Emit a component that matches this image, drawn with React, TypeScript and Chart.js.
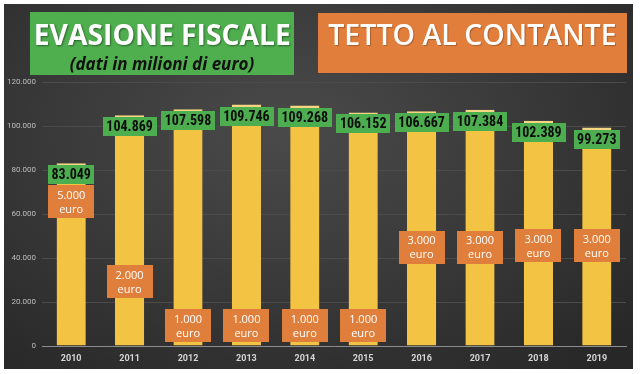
import React, { useEffect, useRef } from 'react';
import { Chart, registerables } from 'chart.js';

Chart.register(...registerables);

// ---- data ----
const years = ['2010', '2011', '2012', '2013', '2014', '2015', '2016', '2017', '2018', '2019'];
const evasione = [83049, 104869, 107598, 109746, 109268, 106152, 106667, 107384, 102389, 99273];
const tettoContante = [5000, 2000, 1000, 1000, 1000, 1000, 3000, 3000, 3000, 3000];
// vertical anchor (in y-axis units) where each "tetto" tag sits on its bar
const tettoAnchor = [65700, 29300, 9300, 9300, 9300, 9300, 45000, 45000, 45600, 45500];
const yMin = 0;
const yMax = 120000;
const yStep = 20000;
const titleLeft = 'EVASIONE FISCALE';
const subtitleLeft = '(dati in milioni di euro)';
const titleRight = 'TETTO AL CONTANTE';

const fmt = (n: number) => String(Math.round(n)).replace(/\B(?=(\d{3})+(?!\d))/g, '.');

const NUM_FONT = '"Liberation Sans Narrow", "Roboto Condensed", Roboto, sans-serif';

const tagPlugin = {
  id: 'tags',
  afterDatasetsDraw(chart: any) {
    const ctx = chart.ctx;
    const meta = chart.getDatasetMeta(0);
    const yScale = chart.scales.y;
    ctx.save();
    meta.data.forEach((el: any, i: number) => {
      const x = el.x;
      const top = el.y;
      // green value tag
      ctx.font = 'bold 14px ' + NUM_FONT;
      const txt = fmt(evasione[i]);
      const tw = ctx.measureText(txt).width;
      const gw = tw + 7;
      const gh = 19;
      const gy = top + 2;
      ctx.fillStyle = '#4DAE4F';
      ctx.fillRect(Math.round(x - gw / 2), Math.round(gy), Math.round(gw), gh);
      ctx.fillStyle = '#0d0d0d';
      ctx.textAlign = 'center';
      ctx.textBaseline = 'middle';
      ctx.fillText(txt, x, gy + gh / 2 + 1);

      // orange cap tag
      const cy = yScale.getPixelForValue(tettoAnchor[i]);
      const ow = 46;
      const oh = 33;
      ctx.fillStyle = '#E07F3B';
      ctx.fillRect(Math.round(x - ow / 2), Math.round(cy - oh / 2), ow, oh);
      ctx.fillStyle = '#ffffff';
      ctx.font = '11px "Open Sans", sans-serif';
      ctx.fillText(fmt(tettoContante[i]), x, cy - 6);
      ctx.fillText('euro', x, cy + 8);
    });
    ctx.restore();
  },
};

export default function App() {
  const ref = useRef<HTMLCanvasElement>(null);

  useEffect(() => {
    if (!ref.current) return;
    const chart = new Chart(ref.current, {
      type: 'bar',
      data: {
        labels: years,
        datasets: [
          {
            label: 'Evasione fiscale',
            data: evasione,
            backgroundColor: '#F3C444',
            borderColor: '#F6D683',
            borderWidth: { top: 3, left: 0, right: 0, bottom: 0 },
            borderSkipped: false,
            barPercentage: 0.5,
            categoryPercentage: 1,
          },
        ],
      },
      options: {
        responsive: false,
        animation: false,
        events: [],
        layout: { padding: { left: 0, right: 14, top: 82, bottom: 0 } },
        plugins: {
          legend: { display: false },
          tooltip: { enabled: false },
          title: { display: false },
        },
        scales: {
          x: {
            afterFit: (s: any) => {
              s.height = 28;
            },
            grid: { display: false, drawTicks: false },
            border: { display: true, color: '#8c8c8c', width: 1 },
            ticks: {
              color: '#d6d6d6',
              font: { family: 'Roboto, sans-serif', size: 9, weight: 'bold' },
              padding: 7,
            },
          },
          y: {
            min: yMin,
            max: yMax,
            afterFit: (s: any) => {
              s.width = 42;
            },
            grid: { color: '#4b4b4b', lineWidth: 1, drawTicks: false },
            border: { display: false },
            ticks: {
              stepSize: yStep,
              color: '#bdbdbd',
              font: { family: 'Roboto, sans-serif', size: 8 },
              padding: 6,
              callback: (v: any) => fmt(Number(v)),
            },
          },
        },
      },
      plugins: [tagPlugin],
    });
    return () => chart.destroy();
  }, []);

  return (
    <div style={{ position: 'absolute', left: 0, top: 0, width: 640, height: 374, background: '#ffffff', overflow: 'hidden' }}>
      <div
        style={{
          position: 'absolute',
          left: 4,
          top: 4,
          width: 629,
          height: 365,
          background: 'radial-gradient(ellipse 75% 85% at 45% 35%, #4a4a4a 0%, #3b3b3b 45%, #272727 100%)',
        }}
      />
      <canvas ref={ref} width={640} height={374} style={{ position: 'absolute', left: 0, top: 0, display: 'block' }} />
      <div
        style={{
          position: 'absolute',
          left: 30,
          top: 12,
          width: 264,
          height: 63,
          background: '#4FAF4F',
        }}
      >
        <div
          style={{
            position: 'absolute',
            left: 0,
            top: 8,
            width: 264,
            textAlign: 'center',
            color: '#ffffff',
            font: '700 28px/28px "Open Sans", sans-serif',
            textShadow: '1px 1px 2px rgba(0,0,0,0.45)',
            whiteSpace: 'nowrap',
          }}
        >
          <span style={{ display: 'inline-block', transform: 'scaleX(1.01)' }}>{titleLeft}</span>
        </div>
        <div
          style={{
            position: 'absolute',
            left: 0,
            top: 43,
            width: 264,
            textAlign: 'center',
            color: '#111111',
            font: 'italic 700 17px/17px "Open Sans", sans-serif',
            whiteSpace: 'nowrap',
          }}
        >
          {subtitleLeft}
        </div>
      </div>
      <div
        style={{
          position: 'absolute',
          left: 318,
          top: 13,
          width: 309,
          height: 60,
          background: '#E27E3B',
        }}
      >
        <div
          style={{
            position: 'absolute',
            left: 0,
            top: 7,
            width: 309,
            textAlign: 'center',
            color: '#ffffff',
            font: '600 28px/28px "Open Sans", sans-serif',
            textShadow: '1px 1px 1px rgba(0,0,0,0.25)',
            whiteSpace: 'nowrap',
          }}
        >
          <span style={{ display: 'inline-block', transform: 'scaleX(1.02)' }}>{titleRight}</span>
        </div>
      </div>
    </div>
  );
}
